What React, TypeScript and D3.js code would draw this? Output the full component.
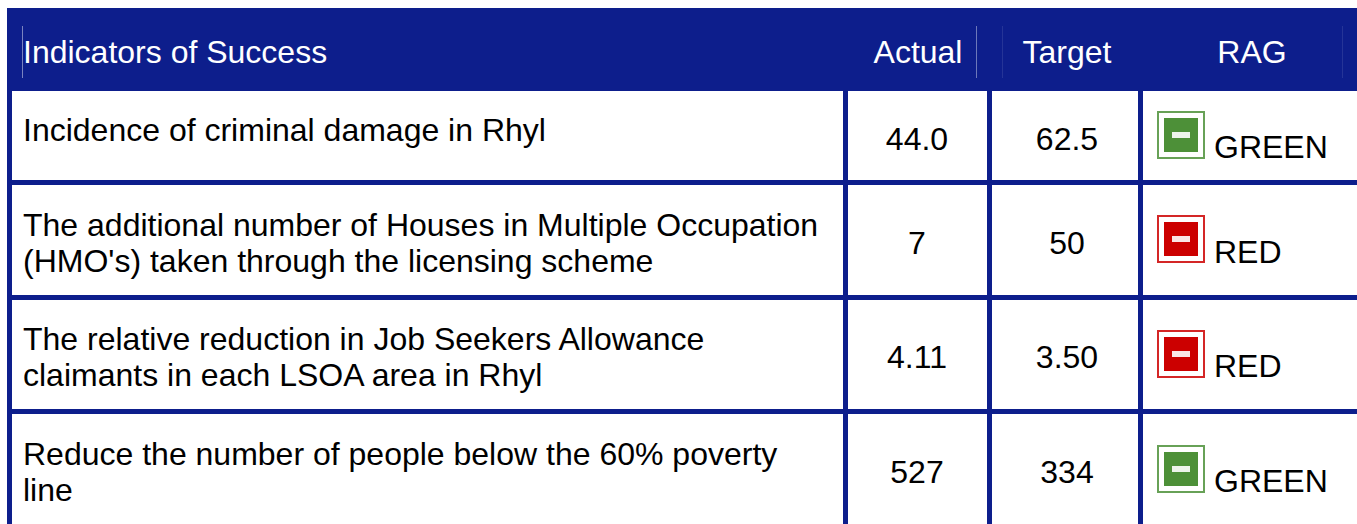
import React from 'react';
import * as d3 from 'd3';

const headers = ['Indicators of Success', 'Actual', 'Target', 'RAG'];
const indicators = [
  ['Incidence of criminal damage in Rhyl'],
  ['The additional number of Houses in Multiple Occupation', "(HMO's) taken through the licensing scheme"],
  ['The relative reduction in Job Seekers Allowance', 'claimants in each LSOA area in Rhyl'],
  ['Reduce the number of people below the 60% poverty', 'line'],
];
const actual = ['44.0', '7', '4.11', '527'];
const target = ['62.5', '50', '3.50', '334'];
const rag = ['GREEN', 'RED', 'RED', 'GREEN'];

const NAVY = '#0d1e8c';
const FONT = '"Liberation Sans", Arial, sans-serif';
const FS = 32;
const rowIds = d3.range(indicators.length);

// column centres and row anchors
const colX = d3.scaleOrdinal<string, number>().domain(headers).range([23, 918, 1067, 1252]);
const rowTop = d3.scaleOrdinal<number, number>().domain(rowIds).range([91, 185, 300, 414]);
const textBase = d3.scaleOrdinal<number, number>().domain(rowIds).range([141, 236, 350, 465]);
const valueBase = d3.scaleOrdinal<number, number>().domain(rowIds).range([150, 254, 368, 483]);
const iconTop = d3.scaleOrdinal<number, number>().domain(rowIds).range([111, 215, 330, 445]);
const ragBase = d3.scaleOrdinal<number, number>().domain(rowIds).range([158, 263, 377, 492]);
const ragColor = d3.scaleOrdinal<string, string>().domain(['GREEN', 'RED']).range(['#4e9038', '#cc0000']);

const rules = [843, 987, 1138];
const headSeps = [
  { x: 22.5, o: 0.45 },
  { x: 976.5, o: 0.4 },
  { x: 1002.5, o: 0.1 },
  { x: 1342.5, o: 0.1 },
];

const Icon = ({ y, color }: { y: number; color: string }) => (
  <g transform={`translate(1157,${y})`} filter="url(#soft)">
    <rect x={1} y={1} width={46} height={46} fill="#fff" stroke={color} strokeWidth={2} strokeOpacity={0.85} />
    <rect x={7} y={7} width={34} height={34} fill={color} />
    <rect x={15} y={21} width={18} height={6} fill="#fff" fillOpacity={0.9} />
  </g>
);

export default function App() {
  return (
    <svg
      width={1357}
      height={524}
      style={{ position: 'absolute', left: 0, top: 0, display: 'block', background: '#fff' }}
      fontFamily={FONT}
    >
      <defs>
        <filter id="soft" x="-5%" y="-5%" width="110%" height="110%">
          <feGaussianBlur stdDeviation="0.5" />
        </filter>
      </defs>

      {/* header band and grid */}
      <rect x={7} y={8} width={1350} height={83} fill={NAVY} />
      <rect x={7} y={91} width={5} height={433} fill={NAVY} />
      {rules.map(x => (
        <rect key={x} x={x} y={91} width={5} height={433} fill={NAVY} />
      ))}
      {rowIds.slice(1).map(i => (
        <rect key={i} x={7} y={rowTop(i) - 5} width={1350} height={5} fill={NAVY} />
      ))}
      {headSeps.map(s => (
        <line key={s.x} x1={s.x} x2={s.x} y1={26} y2={78} stroke="#fff" strokeOpacity={s.o} />
      ))}

      {headers.map((h, i) => (
        <text key={h} x={colX(h)} y={63} fill="#fff" fontSize={FS} textAnchor={i === 0 ? 'start' : 'middle'}>
          {h}
        </text>
      ))}

      {rowIds.map(i => (
        <g key={i}>
          <text fontSize={FS} fill="#000">
            {indicators[i].map((line, j) => (
              <tspan key={j} x={23} y={textBase(i) + j * 35.5}>
                {line}
              </tspan>
            ))}
          </text>
          <text x={917} y={valueBase(i)} fontSize={FS} textAnchor="middle">
            {actual[i]}
          </text>
          <text x={colX('Target')} y={valueBase(i)} fontSize={FS} textAnchor="middle">
            {target[i]}
          </text>
          <Icon y={iconTop(i)} color={ragColor(rag[i])} />
          <text x={1214} y={ragBase(i)} fontSize={FS}>
            {rag[i]}
          </text>
        </g>
      ))}
    </svg>
  );
}
